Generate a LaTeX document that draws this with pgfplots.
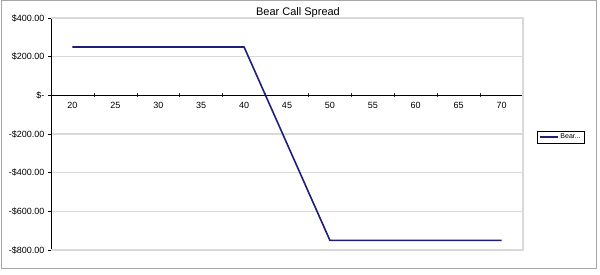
\documentclass[border=0pt]{standalone}
\usepackage{pgfplots}
\pgfplotsset{compat=1.18}
\usepackage{fontspec}
\setmainfont{Liberation Sans}
\definecolor{navyline}{RGB}{31,31,122}
\definecolor{gridc}{RGB}{217,217,217}
\begin{document}
\begin{tikzpicture}[x=1pt,y=1pt]
\useasboundingbox (0,0) rectangle (600,274);
\fill[white] (0,0) rectangle (600,274);
\draw[gray!70,line width=1pt] (1,6) rectangle (596,273.5);
\node[font=\fontsize{11}{11}\selectfont] at (298,261) {Bear Call Spread};
\begin{axis}[
  at={(51pt,24pt)}, anchor=south west,
  scale only axis, width=472pt, height=232pt,
  xmin=-0.5, xmax=10.5, ymin=-800, ymax=400,
  axis x line=middle, axis y line=left,
  axis line style={-, black, line width=0.6pt},
  xtick={0,...,10},
  xticklabels={20,25,30,35,40,45,50,55,60,65,70},
  major x tick style={draw=none},
  minor xtick={0.5,1.5,...,10.5},
  minor x tick style={black!80, line width=0.5pt},
  minor tick length=4pt,
  x tick label style={font=\fontsize{9}{9}\selectfont, yshift=-2pt},
  ytick={-800,-600,...,400},
  yticklabels={-\$800.00,-\$600.00,-\$400.00,-\$200.00,\$-,\$200.00,\$400.00},
  y tick label style={font=\fontsize{9}{9}\selectfont},
  ytick align=outside, major tick length=3pt,
  y tick style={black, line width=0.6pt},
  ymajorgrids, grid style={gridc, line width=1.1pt},
  clip=false,
  legend style={at={(1.08,0.487)}, anchor=center, draw=black, line width=0.5pt,
    font=\fontsize{7}{7}\selectfont, inner xsep=2pt, inner ysep=1pt,
    legend cell align=left},
  legend image code/.code={\draw[#1] (0pt,0pt) -- (18pt,0pt);},
]
\draw[gridc, line width=1.1pt] (rel axis cs:0,1) -- (rel axis cs:1,1) -- (rel axis cs:1,0) -- (rel axis cs:0,0);
\addplot[navyline, line width=1.6pt] coordinates {
(0,250) (1,250) (2,250) (3,250) (4,250) (5,-250) (6,-750) (7,-750) (8,-750) (9,-750) (10,-750)};
\addlegendentry{Bear...}
\end{axis}
\end{tikzpicture}
\end{document}
